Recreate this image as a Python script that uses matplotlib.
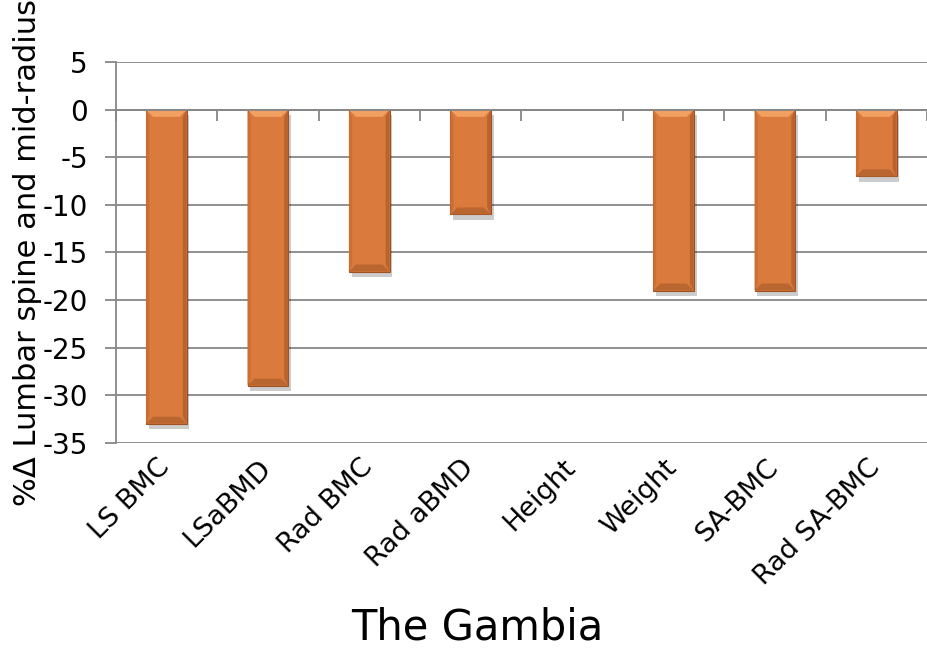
import numpy as np
import matplotlib.pyplot as plt
import matplotlib.patheffects as pe
import matplotlib.transforms as mtransforms
from matplotlib.patches import Polygon
from matplotlib.ticker import FixedLocator

plt.rcParams['axes.unicode_minus'] = False
plt.rcParams['font.family'] = ['DejaVu Sans']

# % change by site / measure
categories = ['LS BMC', 'LSaBMD', 'Rad BMC', 'Rad aBMD', 'Height', 'Weight', 'SA-BMC', 'Rad SA-BMC']
pct_change = [-33, -29, -17, -11, 0, -19, -19, -7]
yticks = list(range(-35, 6, 5))

grid_col = '#878787'
bar_col = '#DA7A3C'

fig = plt.figure(figsize=(9.27, 6.49), dpi=100)
ax_box = [0.1248, 0.3179, 0.8752, 0.5861]
ax = fig.add_axes(ax_box)

x = np.arange(len(categories))
bars = ax.bar(x, pct_change, width=0.4, color=bar_col,
              edgecolor=['#9E5224' if v else 'none' for v in pct_change],
              linewidth=0.8, zorder=3,
              path_effects=[pe.SimplePatchShadow(offset=(2, -4), shadow_rgbFace='k', alpha=0.2),
                            pe.Normal()])

ax.set_xlim(-0.5, len(categories) - 0.5)
ax.set_ylim(-35, 5)

# bevel shading: sizes in pixels turned into data units
px_x = ax_box[2] * 927 / len(categories)
px_y = ax_box[3] * 649 / 40
bx = 7 / px_x
by = 7 / px_y
for b, v in zip(bars, pct_change):
    if v == 0:
        continue
    x0, x1 = b.get_x(), b.get_x() + b.get_width()
    top, bot = 0, v
    faces = [
        ([(x0, top), (x1, top), (x1 - bx, top - by), (x0 + bx, top - by)], '#F2A062'),
        ([(x0, bot), (x1, bot), (x1 - bx, bot + by), (x0 + bx, bot + by)], '#BA6630'),
        ([(x0, top), (x0 + bx * 0.45, top - by), (x0 + bx * 0.45, bot + by), (x0, bot)], '#CC6F33'),
        ([(x1, top), (x1 - bx * 0.55, top - by), (x1 - bx * 0.55, bot + by), (x1, bot)], '#B9632D'),
    ]
    for pts, c in faces:
        ax.add_patch(Polygon(pts, closed=True, facecolor=c, edgecolor='none', zorder=4))

# gridlines and left axis
ax.set_yticks(yticks)
ax.yaxis.grid(True, color=grid_col, linewidth=1.3, zorder=0)
ax.set_axisbelow(True)
for s in ['right', 'bottom']:
    ax.spines[s].set_visible(False)
ax.spines['left'].set_color(grid_col)
ax.spines['left'].set_linewidth(1.3)
ax.tick_params(axis='y', direction='out', length=8, width=1.3, color=grid_col,
               labelsize=20, pad=12)

# category axis drawn along zero with tick marks between categories
ax.spines['top'].set_position(('data', 0))
ax.spines['top'].set_color(grid_col)
ax.spines['top'].set_linewidth(1.3)
ax.spines['top'].set_zorder(5)
ax.xaxis.set_minor_locator(FixedLocator(np.arange(-0.5, len(categories), 1)))
ax.tick_params(axis='x', which='minor', top=True, bottom=False, direction='in',
               length=8, width=1.3, color=grid_col)
ax.set_xticks(x)
ax.set_xticklabels(categories, rotation=45, ha='right', rotation_mode='anchor', fontsize=19.5)
ax.tick_params(axis='x', which='major', top=False, bottom=False, labeltop=False,
               labelbottom=True, pad=6)
shift = mtransforms.ScaledTranslation(-7 / 72, 1 / 72, fig.dpi_scale_trans)
for lbl in ax.get_xticklabels():
    lbl.set_transform(lbl.get_transform() + shift)

ax.set_ylabel('%Δ Lumbar spine and mid-radius', fontsize=22)
ax.yaxis.set_label_coords(-0.091, 0.5)

fig.text(477.5 / 927, 1 / 649, 'The Gambia', ha='center', va='bottom', fontsize=30)

fig.savefig('out.png', dpi=100)
